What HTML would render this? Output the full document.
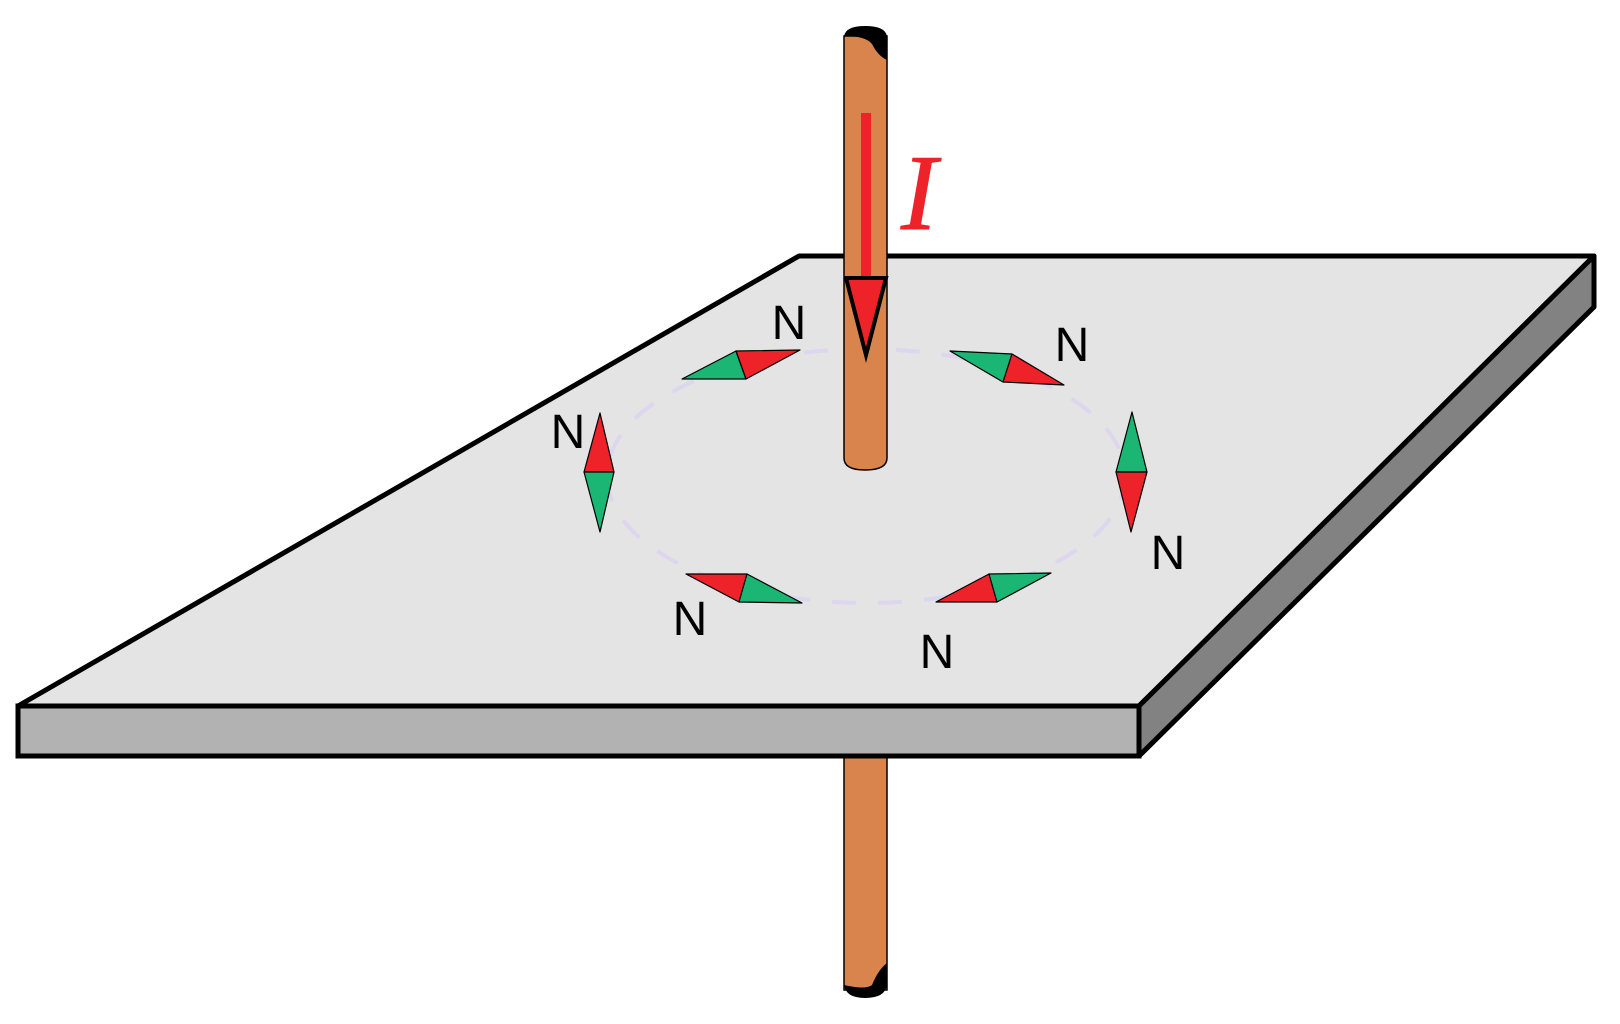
<!DOCTYPE html>
<html><head><meta charset="utf-8"><style>
html,body{margin:0;padding:0;background:#fff;width:1620px;height:1024px;overflow:hidden}
svg{display:block}
</style></head><body>
<svg width="1620" height="1024" viewBox="0 0 1620 1024">
  <g>
    <rect x="844" y="756" width="43" height="234" fill="#d8844c" stroke="#000" stroke-width="1.5"/>
    <path d="M844 985 Q846 998 865 998 Q885 998 887 985 L887 963 Q878 970 872 985 Q866 990 844 985 Z" fill="#000"/>
  </g>
  <g>
    <polygon points="18,706 799,256 1594,256 1139,706" fill="#e4e4e4" stroke="#000" stroke-width="5" stroke-linejoin="round"/>
    <polygon points="18,706 1139,706 1139,756 18,756" fill="#b2b2b2" stroke="#000" stroke-width="5"/>
    <polygon points="1139,706 1594,256 1594,307 1139,756" fill="#828282" stroke="#000" stroke-width="5" stroke-linejoin="round"/>
  </g>
  <ellipse cx="866" cy="476" rx="259" ry="127" fill="none" stroke="#ddd6ee" stroke-width="4" stroke-dasharray="24,22"/>
  <g>
    <path d="M844 36 L844 458 Q844 470 865 470 Q887 470 887 458 L887 36 Z" fill="#d8844c" stroke="#000" stroke-width="1.5"/>
    <path d="M844 36 Q846 26 865 26 Q885 26 887 36 L887 60 Q878 56 872 44 Q866 36 844 36 Z" fill="#000"/>
  </g>
  <g>
    <rect x="861" y="113" width="10" height="170" fill="#ee2229"/>
    <polygon points="846,278 886,278 866,355" fill="#ee2229" stroke="#000" stroke-width="4" stroke-linejoin="miter"/>
  </g>
  <text x="901" y="229" font-family="Liberation Serif, serif" font-style="italic" font-size="108" fill="#ee2229" stroke="#ee2229" stroke-width="1">I</text>
  <g stroke="#000" stroke-width="1.2" stroke-linejoin="round">
    <g>
      <polygon points="682,379 736,351 746,379" fill="#1bb574"/>
      <polygon points="736,351 800,350 746,379" fill="#ee2229"/>
    </g>
    <g>
      <polygon points="950,351 1012,354 1003,382" fill="#1bb574"/>
      <polygon points="1012,354 1064,385 1003,382" fill="#ee2229"/>
    </g>
    <g>
      <polygon points="600,413 614,472 584,472" fill="#ee2229"/>
      <polygon points="584,472 614,472 600,532" fill="#1bb574"/>
    </g>
    <g>
      <polygon points="1132,412 1147,472 1116,472" fill="#1bb574"/>
      <polygon points="1116,472 1147,472 1131,532" fill="#ee2229"/>
    </g>
    <g>
      <polygon points="686,574 747,574 739,602" fill="#ee2229"/>
      <polygon points="747,574 802,603 739,602" fill="#1bb574"/>
    </g>
    <g>
      <polygon points="936,602 989,574 997,602" fill="#ee2229"/>
      <polygon points="989,574 1051,573 997,602" fill="#1bb574"/>
    </g>
  </g>
  <g font-family="Liberation Sans, sans-serif" font-size="48" fill="#000" text-anchor="middle">
    <text x="789" y="339">N</text>
    <text x="1072" y="361">N</text>
    <text x="568" y="448">N</text>
    <text x="1168" y="569">N</text>
    <text x="690" y="635">N</text>
    <text x="937" y="668">N</text>
  </g>
</svg>
</body></html>
